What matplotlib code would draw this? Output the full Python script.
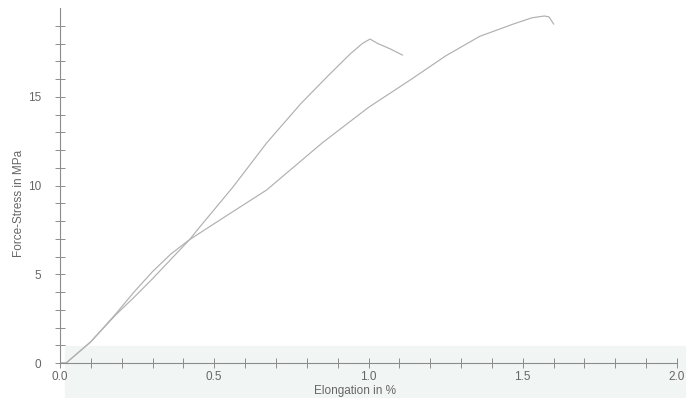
import numpy as np
import matplotlib.pyplot as plt
from matplotlib.patches import Rectangle

plt.rcParams['font.family'] = ['Liberation Sans', 'DejaVu Sans']

# specimen 1 - stiffer, breaks near 1.0 %
strain_1 = [0.0, 0.02, 0.10, 0.18, 0.24, 0.30, 0.36, 0.42, 0.45, 0.56, 0.67, 0.78,
            0.87, 0.94, 0.98, 1.005, 1.03, 1.07, 1.11]
stress_1 = [0.0, 0.0, 1.2, 2.7, 3.7, 4.75, 5.85, 6.95, 7.6, 9.9, 12.4, 14.6,
            16.2, 17.4, 18.0, 18.25, 18.0, 17.7, 17.35]

# specimen 2 - softer, breaks near 1.6 %
strain_2 = [0.0, 0.02, 0.10, 0.18, 0.24, 0.30, 0.36, 0.42, 0.54, 0.67, 0.85, 1.0,
            1.14, 1.25, 1.36, 1.47, 1.53, 1.57, 1.585, 1.60]
stress_2 = [0.0, 0.0, 1.2, 2.75, 4.0, 5.15, 6.15, 6.95, 8.3, 9.75, 12.4, 14.4,
            16.0, 17.3, 18.4, 19.1, 19.45, 19.55, 19.5, 19.1]

x_major = [0.0, 0.5, 1.0, 1.5, 2.0]
y_major = [0, 5, 10, 15]

fig = plt.figure(figsize=(6.86, 3.98), dpi=100)

# faint scan watermark band along the bottom
band = Rectangle((65 / 686, 0), 621 / 686, 52 / 398, transform=fig.transFigure,
                 color='#f1f5f3', zorder=-1)
fig.add_artist(band)

ax = fig.add_axes([60 / 686, 35 / 398, 617 / 686, 355 / 398])
ax.set_zorder(1)
ax.patch.set_alpha(0)

ax.plot(strain_1, stress_1, color='#b0b0b0', lw=0.85)
ax.plot(strain_2, stress_2, color='#b0b0b0', lw=0.85)

ax.set_xlim(0, 2.0)
ax.set_ylim(0, 20)

for s in ['top', 'right']:
    ax.spines[s].set_visible(False)
for s in ['left', 'bottom']:
    ax.spines[s].set_color('#8c8c8c')
    ax.spines[s].set_linewidth(0.8)

ax.set_xticks(x_major)
ax.set_xticklabels([f"{v:.1f}" for v in x_major])
ax.set_xticks(np.arange(0.1, 2.0, 0.1), minor=True)
ax.set_yticks(y_major)
ax.set_yticklabels([str(v) for v in y_major])
ax.set_yticks(np.arange(1, 20, 1), minor=True)

ax.tick_params(which='both', direction='inout', length=7, width=0.7, color='#8c8c8c',
               labelcolor='#666666', labelsize=8.5)
ax.tick_params(axis='y', pad=10)
ax.tick_params(axis='x', pad=2)

ax.set_xlabel("Elongation in %", fontsize=8.5, color='#666666')
ax.xaxis.set_label_coords((355 - 60) / 617, -0.062)
ax.set_ylabel("Force-Stress in MPa", fontsize=8.5, color='#666666')
ax.yaxis.set_label_coords(-0.057, 0.45)

fig.savefig("out.png", dpi=100)
